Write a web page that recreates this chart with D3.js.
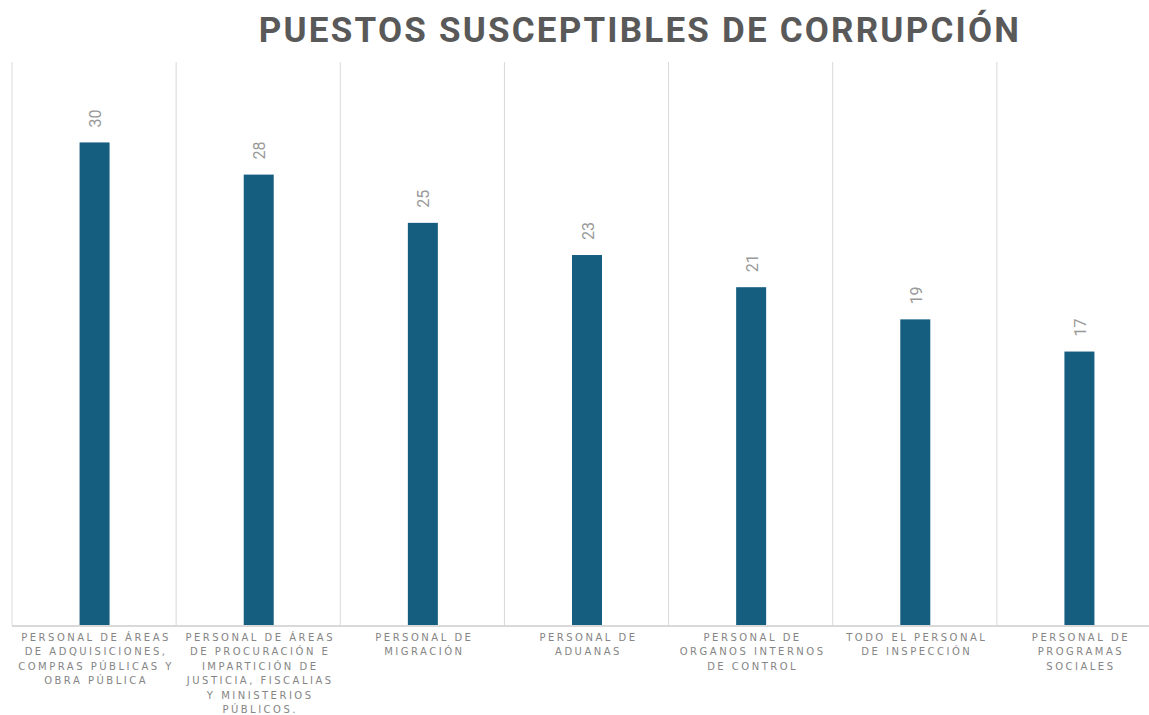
<!DOCTYPE html>
<html>
<head>
<meta charset="utf-8">
<script src="https://cdn.jsdelivr.net/npm/d3@7"></script>
<style>
  body { margin: 0; background: #fff; }
  svg { display: block; }
</style>
</head>
<body>
<div id="chart"></div>
<script>
// data
const categories = [
  "PERSONAL DE ÁREAS|DE ADQUISICIONES,|COMPRAS PÚBLICAS Y|OBRA PÚBLICA",
  "PERSONAL DE ÁREAS|DE PROCURACIÓN E|IMPARTICIÓN DE|JUSTICIA, FISCALIAS|Y MINISTERIOS|PÚBLICOS.",
  "PERSONAL DE|MIGRACIÓN",
  "PERSONAL DE|ADUANAS",
  "PERSONAL DE|ORGANOS INTERNOS|DE CONTROL",
  "TODO EL PERSONAL|DE INSPECCIÓN",
  "PERSONAL DE|PROGRAMAS|SOCIALES"
];
const values = [30, 28, 25, 23, 21, 19, 17];

const width = 1149, height = 715;
const mLeft = 12, mRight = 1161, mTop = 62, mBottom = 625;

const svg = d3.select("#chart").append("svg")
    .attr("width", width)
    .attr("height", height);

const x = d3.scaleBand()
    .domain(d3.range(categories.length))
    .range([mLeft, mRight]);

const y = d3.scaleLinear()
    .domain([0, 35])
    .range([mBottom, mTop]);

// title
svg.append("text")
    .attr("x", 640)
    .attr("y", 42)
    .attr("text-anchor", "middle")
    .attr("font-family", "Roboto")
    .attr("font-weight", "bold")
    .attr("font-size", 35)
    .attr("letter-spacing", 2.2)
    .attr("fill", "#595959")
    .text("PUESTOS SUSCEPTIBLES DE CORRUPCIÓN");

// vertical separators
svg.selectAll("line.sep")
   .data(d3.range(categories.length + 1))
   .enter().append("line")
   .attr("class", "sep")
   .attr("x1", d => x(0) + d * x.step())
   .attr("x2", d => x(0) + d * x.step())
   .attr("y1", mTop)
   .attr("y2", mBottom)
   .attr("stroke", "#d9d9d9")
   .attr("stroke-width", 1);

const barW = 30;

svg.selectAll("rect.bar")
   .data(values)
   .enter().append("rect")
   .attr("class", "bar")
   .attr("x", (d, i) => x(i) + x.bandwidth() / 2 - barW / 2 + 0.5)
   .attr("y", d => y(d))
   .attr("width", barW)
   .attr("height", d => y(0) - y(d))
   .attr("fill", "#165e80");

// baseline
svg.append("line")
   .attr("x1", mLeft)
   .attr("x2", mRight)
   .attr("y1", mBottom + 1)
   .attr("y2", mBottom + 1)
   .attr("stroke", "#d9d9d9")
   .attr("stroke-width", 2);

// value labels, rotated
svg.selectAll("text.val")
   .data(values)
   .enter().append("text")
   .attr("class", "val")
   .attr("transform", (d, i) => "translate(" + (x(i) + x.bandwidth() / 2 + 7) + "," + (y(d) - 15) + ") rotate(-90)")
   .attr("font-family", "Roboto")
   .attr("font-size", 16)
   .attr("fill", "#999")
   .text(d => d);

// category labels
const lab = svg.selectAll("text.cat")
   .data(categories)
   .enter().append("text")
   .attr("class", "cat")
   .attr("text-anchor", "middle")
   .attr("font-family", "DejaVu Sans")
   .attr("font-size", 10)
   .attr("letter-spacing", 2.5)
   .attr("fill", "#858585");

lab.each(function(d, i) {
    const t = d3.select(this);
    d.split("|").forEach((line, k) => {
        t.append("tspan")
         .attr("x", x(i) + x.bandwidth() / 2 + 2)
         .attr("y", 641 + k * 14.4)
         .text(line);
    });
});
</script>
</body>
</html>
